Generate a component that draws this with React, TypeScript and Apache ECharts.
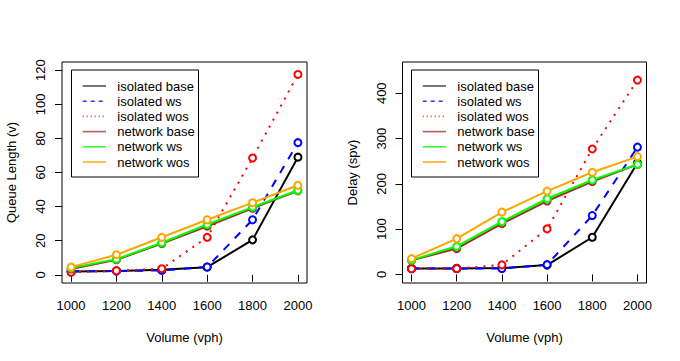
import React, { useEffect, useRef } from "react";
import * as echarts from "echarts";

const volumes = [1000, 1200, 1400, 1600, 1800, 2000];
const seriesNames = [
  "isolated base",
  "isolated ws",
  "isolated wos",
  "network base",
  "network ws",
  "network wos",
];

const queueIsolatedBase = [2, 2.3, 3, 4.5, 20.5, 69];
const queueIsolatedWs = [2, 2.2, 2.6, 4.6, 32.3, 77.5];
const queueIsolatedWos = [1.5, 2.4, 3.6, 22, 68.5, 117.5];
const queueNetworkBase = [3.4, 8.8, 18.3, 28.5, 39, 49.3];
const queueNetworkWs = [4, 9.2, 18.8, 29.5, 39.7, 49.6];
const queueNetworkWos = [4.5, 11.8, 22, 32.3, 42.3, 52.5];

const delayIsolatedBase = [13, 13, 14, 20.5, 82, 246];
const delayIsolatedWs = [13, 13.2, 13, 21.5, 130, 281];
const delayIsolatedWos = [12.5, 12.8, 21, 100.5, 277, 429];
const delayNetworkBase = [31, 57, 112, 162, 205, 243];
const delayNetworkWs = [31.5, 62, 116.5, 167, 208.5, 243];
const delayNetworkWos = [35, 79, 137.5, 184, 225.5, 260];

const xTicks = [1000, 1200, 1400, 1600, 1800, 2000];
const queueTicks = [0, 20, 40, 60, 80, 100, 120];
const delayTicks = [0, 100, 200, 300, 400];

const colors = ["#000000", "#0000FF", "#FF0000", "#A52A2A", "#00FF00", "#FFA500"];
const legendColors = ["#555555", "#3333FF", "#FF3333", "#B85C5C", "#33FF33", "#FFB020"];
const dashes: any[] = ["solid", [8, 8], [2, 6], "solid", "solid", "solid"];
const legendDashes: any[] = [null, [4, 4], [1, 3], null, null, null];

const FONT = "'Liberation Sans', Arial, Helvetica, sans-serif";

function makeXAxis(gridIndex: number) {
  return {
    type: "value",
    gridIndex,
    min: 960,
    max: 2040,
    axisLine: { show: false },
    splitLine: { show: false },
    axisTick: {
      show: true,
      inside: false,
      length: 7,
      customValues: xTicks,
      lineStyle: { color: "#000", width: 1 },
    },
    axisLabel: {
      customValues: xTicks,
      formatter: (v: number) => String(v),
      color: "#000",
      fontSize: 13,
      fontFamily: FONT,
      margin: 16,
    },
    name: "Volume (vph)",
    nameLocation: "middle",
    nameGap: 48,
    nameTextStyle: { color: "#000", fontSize: 13, fontFamily: FONT },
  };
}

function makeYAxis(gridIndex: number, min: number, max: number, ticks: number[], name: string) {
  return {
    type: "value",
    gridIndex,
    min,
    max,
    axisLine: { show: false },
    splitLine: { show: false },
    axisTick: {
      show: true,
      length: 7,
      customValues: ticks,
      lineStyle: { color: "#000", width: 1 },
    },
    axisLabel: {
      customValues: ticks,
      formatter: (v: number) => String(v),
      color: "#000",
      fontSize: 13,
      fontFamily: FONT,
      rotate: 90,
      margin: 15,
    },
    name,
    nameLocation: "middle",
    nameGap: 44,
    nameTextStyle: { color: "#000", fontSize: 13, fontFamily: FONT },
  };
}

function makeLegendGraphic(offsetX: number) {
  const children: any[] = [
    {
      type: "rect",
      shape: { x: 71.5, y: 70, width: 127, height: 107 },
      style: { fill: "#fff", stroke: "#000", lineWidth: 1 },
    },
  ];
  seriesNames.forEach((n, i) => {
    const y = 86 + i * 15.2;
    children.push({
      type: "line",
      shape: { x1: 82.7, y1: y, x2: 106, y2: y },
      style: { stroke: legendColors[i], lineWidth: 1.6, lineDash: legendDashes[i] },
    });
    children.push({
      type: "text",
      x: 117.3,
      y,
      style: {
        text: n,
        fill: "#000",
        font: `13px ${FONT}`,
        verticalAlign: "middle",
        align: "left",
      },
    });
  });
  return { type: "group", x: offsetX, y: 0, z: 100, children };
}

function makeSeries(idx: number, values: number[], i: number) {
  return {
    type: "line",
    name: seriesNames[i],
    xAxisIndex: idx,
    yAxisIndex: idx,
    data: volumes.map((v, k) => [v, values[k]]),
    symbol: "emptyCircle",
    symbolSize: 7,
    lineStyle: { color: colors[i], width: 2, type: dashes[i], cap: "butt" },
    itemStyle: { color: colors[i], borderColor: colors[i], borderWidth: 2 },
    emphasis: { disabled: true },
    z: 2 + i,
  };
}

export default function App() {
  const ref = useRef<HTMLDivElement>(null);
  useEffect(() => {
    if (!ref.current) return;
    const chart = echarts.init(ref.current, null, { renderer: "svg" });
    const queueSets = [
      queueIsolatedBase,
      queueIsolatedWs,
      queueIsolatedWos,
      queueNetworkBase,
      queueNetworkWs,
      queueNetworkWos,
    ];
    const delaySets = [
      delayIsolatedBase,
      delayIsolatedWs,
      delayIsolatedWos,
      delayNetworkBase,
      delayNetworkWs,
      delayNetworkWos,
    ];
    chart.setOption({
      animation: false,
      backgroundColor: "#fff",
      grid: [
        { left: 62, top: 62, width: 245, height: 221, show: true, borderColor: "#000", borderWidth: 1, backgroundColor: "transparent" },
        { left: 402.5, top: 62, width: 244, height: 221, show: true, borderColor: "#000", borderWidth: 1, backgroundColor: "transparent" },
      ],
      xAxis: [makeXAxis(0), makeXAxis(1)],
      yAxis: [
        makeYAxis(0, -4.8, 124.8, queueTicks, "Queue Length (v)"),
        makeYAxis(1, -19, 469, delayTicks, "Delay (spv)"),
      ],
      graphic: [makeLegendGraphic(0), makeLegendGraphic(340)],
      series: [
        ...queueSets.map((s, i) => makeSeries(0, s, i)),
        ...delaySets.map((s, i) => makeSeries(1, s, i)),
      ],
    });
    return () => chart.dispose();
  }, []);
  return (
    <div
      ref={ref}
      style={{ position: "fixed", left: 0, top: 0, width: 680, height: 361, background: "#fff" }}
    />
  );
}
